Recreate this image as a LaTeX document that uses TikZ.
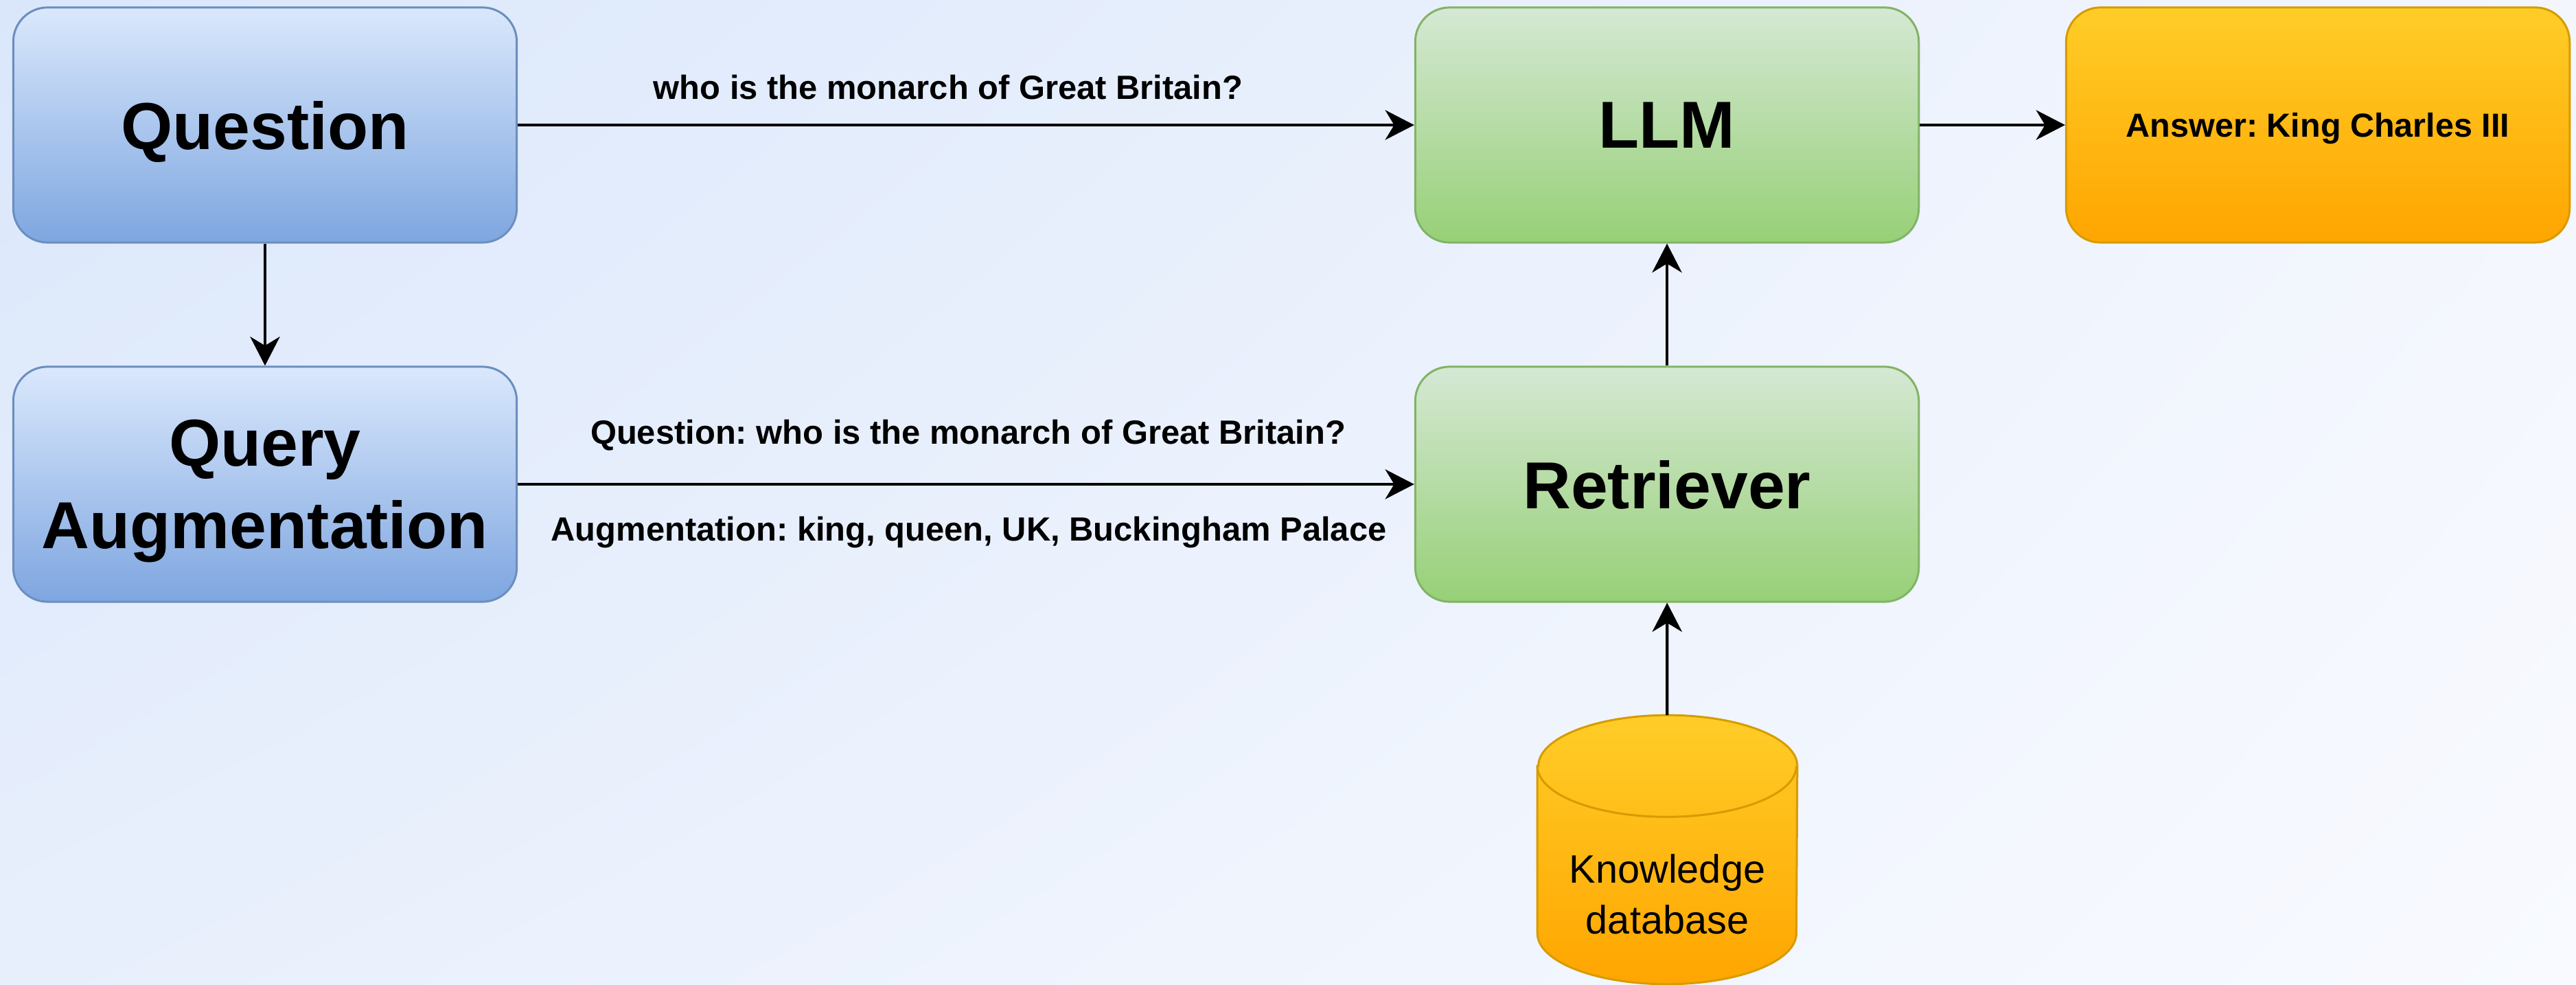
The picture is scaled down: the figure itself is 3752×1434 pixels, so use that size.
\documentclass[tikz,border=0pt]{standalone}
\usepackage{fontspec}
\setmainfont{Liberation Sans}
\usetikzlibrary{arrows.meta,shadings}
\frenchspacing

% palette
\definecolor{bgTL}{HTML}{DAE7FB}
\definecolor{bgTR}{HTML}{F3F6FD}
\definecolor{bgBL}{HTML}{E8EFFC}
\definecolor{bgBR}{HTML}{F8FAFF}
\definecolor{blueTop}{HTML}{DAE8FC}
\definecolor{blueBot}{HTML}{7EA6E0}
\definecolor{blueLine}{HTML}{6C8EBF}
\definecolor{greenTop}{HTML}{D5E8D4}
\definecolor{greenBot}{HTML}{97D077}
\definecolor{greenLine}{HTML}{82B366}
\definecolor{orangeTop}{HTML}{FFCD28}
\definecolor{orangeBot}{HTML}{FFA500}
\definecolor{orangeLine}{HTML}{D79B00}

\begin{document}
\begin{tikzpicture}[x=0.01cm,y=0.01cm,
  box/.style={rounded corners=0.5cm, minimum width=7.33cm, minimum height=3.42cm,
    line width=0.85pt, align=center, inner sep=0pt, text depth=0pt,
    font=\fontsize{27.5}{34}\selectfont\bfseries},
  bluebox/.style={box, draw=blueLine, top color=blueTop, bottom color=blueBot},
  greenbox/.style={box, draw=greenLine, top color=greenTop, bottom color=greenBot},
  orangebox/.style={box, draw=orangeLine, top color=orangeTop, bottom color=orangeBot,
    font=\fontsize{13.8}{16}\selectfont\bfseries},
  flow/.style={line width=1.2pt, -{Stealth[length=12pt,width=12.3pt,inset=3.7pt]}},
  edgetxt/.style={font=\fontsize{13.9}{16}\selectfont\bfseries, anchor=base, inner sep=0pt},
]
\useasboundingbox (0,0) rectangle (3752,1434);

% soft diagonal backdrop
\shade[upper left=bgTL, upper right=bgTR, lower left=bgBL, lower right=bgBR]
  (0,0) rectangle (3752,1434);

% process boxes
\node[bluebox]   (question) at (386,1252)  {Question};
\node[bluebox]   (augment)  at (386,729)   {Query\\Augmentation};
\node[greenbox]  (llm)      at (2428,1252) {LLM};
\node[greenbox]  (retr)     at (2428,729)  {Retriever};
\node[orangebox] (answer)   at (3376,1252) {Answer: King Charles III};

% knowledge database cylinder
\node[minimum width=3.77cm, minimum height=3.9cm, inner sep=0pt] (db) at (2428.5,197) {};
\path[shade, top color=orangeTop, bottom color=orangeBot, draw=orangeLine, line width=0.85pt]
  ([yshift=-0.74cm]db.north west) -- ([yshift=0.74cm]db.south west)
  arc[start angle=180, end angle=360, x radius=1.885cm, y radius=0.74cm]
  -- ([yshift=-0.74cm]db.north east)
  arc[start angle=0, end angle=180, x radius=1.885cm, y radius=0.74cm] -- cycle;
\draw[orangeLine, line width=0.85pt] ([yshift=-0.74cm]db.north west)
  arc[start angle=180, end angle=360, x radius=1.885cm, y radius=0.74cm];
\node[font=\fontsize{16.4}{21}\selectfont, align=center, inner sep=0pt] (dbtext)
  at (2428.5,132) {Knowledge\\database};

% connectors
\draw[flow] (question) -- (llm);
\draw[flow] (question) -- (augment);
\draw[flow] (augment) -- (retr);
\draw[flow] (retr) -- (llm);
\draw[flow] (db) -- (retr);
\draw[flow] (llm) -- (answer);

% connector labels
\node[edgetxt] (lblq)   at (1381,1289) {who is the monarch of Great Britain?};
\node[edgetxt] (lblaq)  at (1410,787)  {Question: who is the monarch of Great Britain?};
\node[edgetxt] (lblaug) at (1411,646)  {Augmentation: king, queen, UK, Buckingham Palace};
\end{tikzpicture}
\end{document}
